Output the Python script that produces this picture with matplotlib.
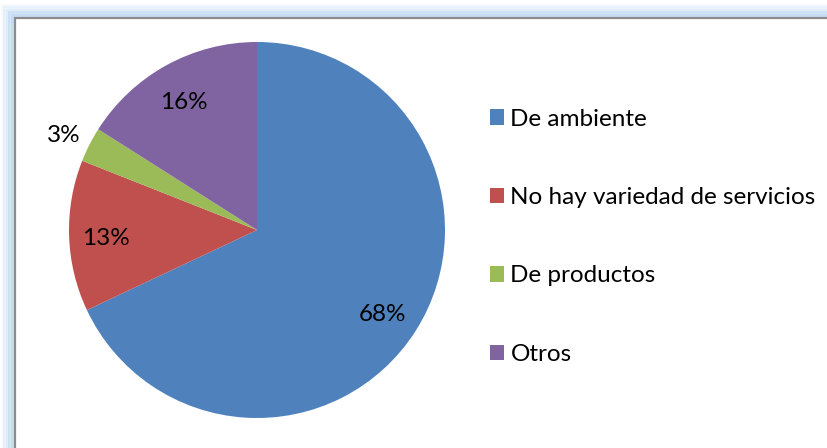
import numpy as np
import matplotlib
matplotlib.use("Agg")
import matplotlib.pyplot as plt
import matplotlib.transforms as mtransforms
from matplotlib.patches import Rectangle

categories = ["De ambiente", "No hay variedad de servicios", "De productos", "Otros"]
values = [68, 13, 3, 16]
colors = ["#4F81BD", "#C0504D", "#9BBB59", "#8064A2"]

plt.rcParams['font.family'] = ['Lato', 'DejaVu Sans']

W, H = 828, 448
fig = plt.figure(figsize=(W/100, H/100), dpi=100)
fig.patch.set_facecolor("white")

# frame glow + border
for i, a in enumerate([0.10, 0.18, 0.28, 0.40, 0.55]):
    off = (5 - i) * 2.4
    fig.patches.append(Rectangle(((15 - off)/W, -0.2), 2.0, (H - 18 + off)/H + 0.2,
                                 transform=fig.transFigure, facecolor="none",
                                 edgecolor="#9DC3EE", lw=2.6, alpha=a, zorder=0))
fig.patches.append(Rectangle((15/W, -0.2), 2.0, (H - 18)/H + 0.2,
                             transform=fig.transFigure, facecolor="white",
                             edgecolor="#8C8C8C", lw=1.6, zorder=1))

cx, cy, r = 257, 230, 188
ax = fig.add_axes([(cx - r)/W, (H - cy - r)/H, 2*r/W, 2*r/H])
ax.set_zorder(2)
wedges, _ = ax.pie(values, colors=colors, startangle=90, counterclock=False,
                   wedgeprops=dict(linewidth=0))
ax.set_xlim(-1, 1)
ax.set_ylim(-1, 1)
ax.set_aspect("equal")
ax.axis("off")

shift = mtransforms.ScaledTranslation(-1/100, -4/100, fig.dpi_scale_trans)
for w, v in zip(wedges, values):
    ang = np.deg2rad((w.theta1 + w.theta2) / 2)
    d = 1.15 if v < 5 else 0.80
    ax.text(d*np.cos(ang), d*np.sin(ang), f"{v}%", ha="center", va="center",
            fontsize=17.5, color="black", clip_on=False,
            transform=ax.transData + shift)

leg = fig.legend(wedges, categories, loc="upper left",
                 bbox_to_anchor=(480/W, 1 - 99/H), frameon=False,
                 fontsize=17.5, handlelength=0.6, handleheight=0.6,
                 handletextpad=0.25, labelspacing=2.36, borderaxespad=0)

fig.savefig("out.png", dpi=100)
